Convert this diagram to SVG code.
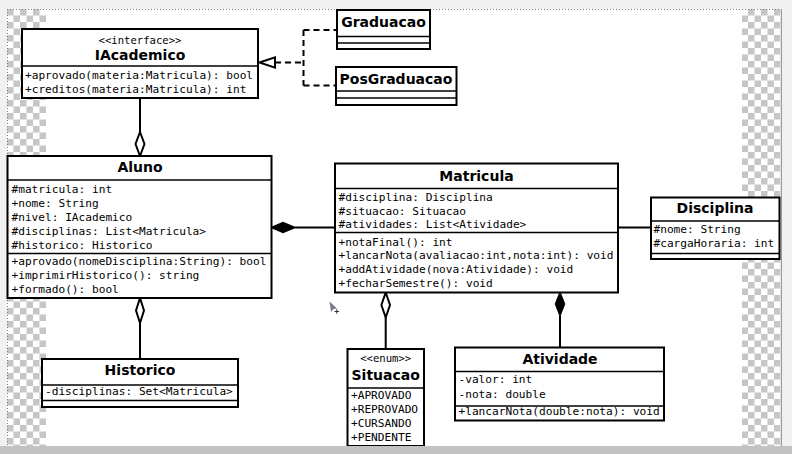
<svg xmlns="http://www.w3.org/2000/svg" width="792" height="454" viewBox="0 0 792 454">
<defs>
<pattern id="chk" width="13" height="13" patternUnits="userSpaceOnUse" x="7" y="9">
<rect width="13" height="13" fill="#ffffff"/>
<rect width="6.5" height="6.5" fill="#c6c6c6"/>
<rect x="6.5" y="6.5" width="6.5" height="6.5" fill="#c6c6c6"/>
</pattern>
</defs>
<style>
.box{fill:#ffffff;stroke:#000;stroke-width:2}
.sep{stroke:#000;stroke-width:1.5}
.title{font-family:"DejaVu Sans",sans-serif;font-weight:bold;font-size:14px;text-anchor:middle;fill:#000}
.stereo{font-family:"DejaVu Sans Mono",monospace;font-size:10.6px;text-anchor:middle;fill:#000}
.mem{font-family:"DejaVu Sans Mono",monospace;font-size:11.15px;fill:#000}
.ln{stroke:#000;stroke-width:2;fill:none}
.dash{stroke:#000;stroke-width:2;fill:none;stroke-dasharray:6,4}
.hollow{fill:#ffffff;stroke:#000;stroke-width:2}
.filled{fill:#000;stroke:#000;stroke-width:1.5}
</style>
<rect x="0" y="0" width="792" height="454" fill="#f1f1f1"/>
<rect x="7" y="9" width="775" height="437" fill="#ffffff"/>
<rect x="7" y="9" width="39" height="437" fill="url(#chk)"/>
<rect x="742" y="9" width="39.5" height="437" fill="url(#chk)"/>
<line x1="7" y1="9.5" x2="782" y2="9.5" stroke="#808080" stroke-width="1" stroke-dasharray="1,2"/>
<line x1="7.5" y1="9" x2="7.5" y2="446" stroke="#808080" stroke-width="1" stroke-dasharray="1,2"/>
<line x1="781.5" y1="9" x2="781.5" y2="446" stroke="#9a9a9a" stroke-width="1"/>

<g id="connectors">
<line class="ln" x1="140" y1="98" x2="140" y2="132"/>
<polygon class="hollow" points="140,132 144.5,144 140,156 135.5,144"/>
<polygon class="hollow" points="140,298 144,310.5 140,323 136,310.5"/>
<line class="ln" x1="140" y1="323" x2="140" y2="359"/>
<polygon class="filled" points="271.5,227.5 283,222.5 295,227.5 283,232.5"/>
<line class="ln" x1="295" y1="227.5" x2="335" y2="227.5"/>
<line class="ln" x1="618" y1="227.5" x2="651" y2="227.5"/>
<polygon class="hollow" points="385.7,292.5 390,305 385.7,317.5 381.4,305"/>
<line class="ln" x1="385.7" y1="317.5" x2="385.7" y2="349"/>
<polygon class="filled" points="560,292.5 564.5,304 560,315.5 555.5,304"/>
<line class="ln" x1="560" y1="315.5" x2="560" y2="347.5"/>
<polygon class="hollow" points="259.5,62.5 275,57.3 275,67.7"/>
<line class="dash" x1="275" y1="62.5" x2="303.5" y2="62.5"/>
<line class="dash" x1="303.5" y1="30" x2="303.5" y2="85.5"/>
<line class="dash" x1="303.5" y1="30" x2="337" y2="30"/>
<line class="dash" x1="303.5" y1="85.5" x2="336" y2="85.5"/>
</g>

<g id="IAcademico">
<rect class="box" x="22" y="29" width="236" height="69"/>
<line class="sep" x1="22" y1="66" x2="258" y2="66"/>
<text class="stereo" x="140" y="44">&lt;&lt;interface&gt;&gt;</text>
<text class="title" x="140" y="60">IAcademico</text>
<text class="mem" x="25" y="79">+aprovado(materia:Matricula): bool</text>
<text class="mem" x="25" y="93">+creditos(materia:Matricula): int</text>
</g>

<g id="Graduacao">
<rect class="box" x="337" y="10" width="93" height="39"/>
<line class="sep" x1="337" y1="36.5" x2="430" y2="36.5"/>
<line class="sep" x1="337" y1="43" x2="430" y2="43"/>
<text class="title" x="383.5" y="27">Graduacao</text>
</g>

<g id="PosGraduacao">
<rect class="box" x="336" y="67" width="120.5" height="38"/>
<line class="sep" x1="336" y1="91" x2="456.5" y2="91"/>
<line class="sep" x1="336" y1="98" x2="456.5" y2="98"/>
<text class="title" x="396" y="83.5">PosGraduacao</text>
</g>

<g id="Aluno">
<rect class="box" x="7.5" y="156" width="264" height="142"/>
<line class="sep" x1="7.5" y1="180" x2="271.5" y2="180"/>
<line class="sep" x1="7.5" y1="253.5" x2="271.5" y2="253.5"/>
<text class="title" x="140" y="172">Aluno</text>
<text class="mem" x="11.5" y="192.5">#matricula: int</text>
<text class="mem" x="11.5" y="206.5">+nome: String</text>
<text class="mem" x="11.5" y="220.5">#nivel: IAcademico</text>
<text class="mem" x="11.5" y="234.5">#disciplinas: List&lt;Matricula&gt;</text>
<text class="mem" x="11.5" y="248.5">#historico: Historico</text>
<text class="mem" x="11.5" y="265">+aprovado(nomeDisciplina:String): bool</text>
<text class="mem" x="11.5" y="279">+imprimirHistorico(): string</text>
<text class="mem" x="11.5" y="293">+formado(): bool</text>
</g>

<g id="Historico">
<rect class="box" x="42" y="359" width="196" height="48"/>
<line class="sep" x1="42" y1="385" x2="238" y2="385"/>
<line class="sep" x1="42" y1="400.5" x2="238" y2="400.5"/>
<text class="title" x="140" y="375">Historico</text>
<text class="mem" x="45" y="394.5">-disciplinas: Set&lt;Matricula&gt;</text>
</g>

<g id="Matricula">
<rect class="box" x="335" y="163.5" width="283" height="129"/>
<line class="sep" x1="335" y1="188.5" x2="618" y2="188.5"/>
<line class="sep" x1="335" y1="232.5" x2="618" y2="232.5"/>
<text class="title" x="476.5" y="180.5">Matricula</text>
<text class="mem" x="338.5" y="201">#disciplina: Disciplina</text>
<text class="mem" x="338.5" y="214.5">#situacao: Situacao</text>
<text class="mem" x="338.5" y="228">#atividades: List&lt;Atividade&gt;</text>
<text class="mem" x="338.5" y="245.5">+notaFinal(): int</text>
<text class="mem" x="338.5" y="259">+lancarNota(avaliacao:int,nota:int): void</text>
<text class="mem" x="338.5" y="273">+addAtividade(nova:Atividade): void</text>
<text class="mem" x="338.5" y="287">+fecharSemestre(): void</text>
</g>

<g id="Disciplina">
<rect class="box" x="651" y="197.5" width="128.5" height="61.5"/>
<line class="sep" x1="651" y1="221" x2="779.5" y2="221"/>
<line class="sep" x1="651" y1="253.5" x2="779.5" y2="253.5"/>
<text class="title" x="715" y="213">Disciplina</text>
<text class="mem" x="653.5" y="232.5">#nome: String</text>
<text class="mem" x="653.5" y="247">#cargaHoraria: int</text>
</g>

<g id="Situacao">
<rect class="box" x="347.5" y="349" width="76.5" height="97"/>
<line class="sep" x1="347.5" y1="388" x2="424" y2="388"/>
<text class="stereo" x="385.7" y="362">&lt;&lt;enum&gt;&gt;</text>
<text class="title" x="385.7" y="379.5">Situacao</text>
<text class="mem" x="351" y="399">+APROVADO</text>
<text class="mem" x="351" y="413">+REPROVADO</text>
<text class="mem" x="351" y="427">+CURSANDO</text>
<text class="mem" x="351" y="440.5">+PENDENTE</text>
</g>

<g id="Atividade">
<rect class="box" x="455" y="347.5" width="209" height="73"/>
<line class="sep" x1="455" y1="371.5" x2="664" y2="371.5"/>
<line class="sep" x1="455" y1="406" x2="664" y2="406"/>
<text class="title" x="560" y="364">Atividade</text>
<text class="mem" x="458.5" y="383">-valor: int</text>
<text class="mem" x="458.5" y="397.5">-nota: double</text>
<text class="mem" x="458.5" y="415">+lancarNota(double:nota): void</text>
</g>

<polygon points="329.5,301.5 337,308.5 333.5,309 331,312" fill="#7a7a88"/>
<line x1="334.5" y1="311.5" x2="339" y2="311.5" stroke="#333" stroke-width="1"/>
<line x1="336.75" y1="309.3" x2="336.75" y2="313.7" stroke="#333" stroke-width="1"/>

<rect x="0" y="446" width="792" height="8" fill="#c2c2c2"/>
</svg>
